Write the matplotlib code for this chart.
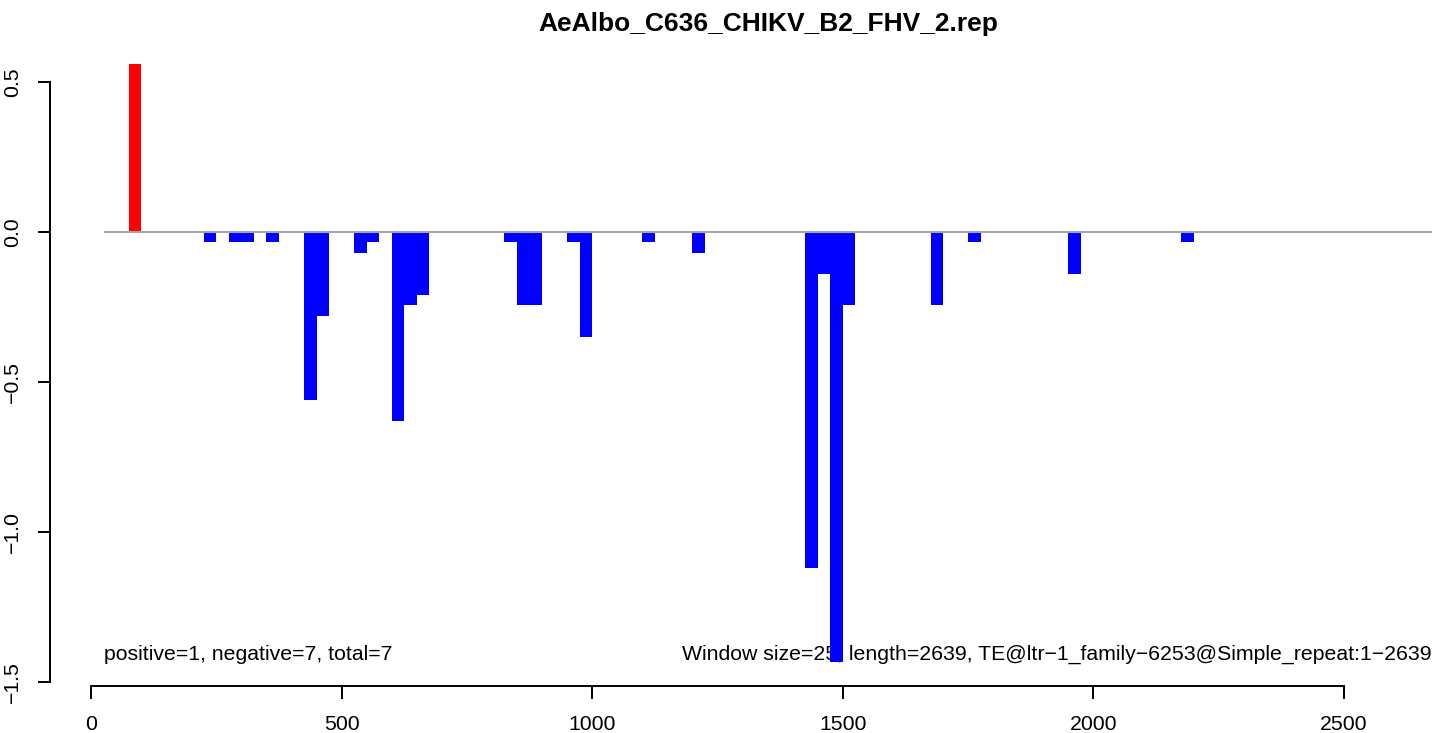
import matplotlib
matplotlib.use("Agg")
import matplotlib.pyplot as plt

# window starts (bp) and normalised scores, window size 25
win_start = [75, 225, 275, 300, 350, 425, 450, 525, 550, 600, 625, 650,
             825, 850, 875, 950, 975, 1100, 1200, 1425, 1450, 1475, 1500,
             1675, 1750, 1950, 2175]
win_score = [0.56, -0.035, -0.035, -0.035, -0.035, -0.56, -0.28, -0.07, -0.035,
             -0.63, -0.245, -0.21, -0.035, -0.245, -0.245, -0.035, -0.35, -0.035,
             -0.07, -1.12, -0.14, -1.435, -0.245, -0.245, -0.035, -0.14, -0.035]
win_size = 25
seq_len = 2639
title = "AeAlbo_C636_CHIKV_B2_FHV_2.rep"
left_note = "positive=1, negative=7, total=7"
right_note = "Window size=25, length=2639, TE@ltr\u22121_family\u22126253@Simple_repeat:1\u22122639"

plt.rcParams['font.family'] = ['Liberation Sans', 'DejaVu Sans']
plt.rcParams['axes.unicode_minus'] = True

W, H = 1444, 733
fig = plt.figure(figsize=(W / 100, H / 100), dpi=100)

# pixel geometry of the plot region (R style)
x0px, xpx_per = 91.0, 0.5012
xl = ((50 - x0px) / xpx_per, (W - x0px) / xpx_per)
y0px, ypx_per = 231.7, 300.0
yl = ((y0px - 685.7) / ypx_per, (y0px - 39.7) / ypx_per)
ax = fig.add_axes([50 / W, (H - 685.7) / H, (W - 50) / W, (685.7 - 39.7) / H])
ax.set_xlim(*xl)
ax.set_ylim(*yl)

colors = ["#FF0000" if v > 0 else "#0000FF" for v in win_score]
ax.bar(win_start, win_score, width=win_size, align="edge", color=colors,
       linewidth=0, antialiased=False, zorder=2)

end = (seq_len // win_size + 2) * win_size
ax.hlines(0, win_size, end, color="#A6A6A6", linewidth=1.5, zorder=3)

fs = 15.3
ax.text(win_size, -1.41, left_note, ha="left", va="center", fontsize=fs, zorder=1)
ax.text(end, -1.41, right_note, ha="right", va="center", fontsize=fs, zorder=1)

fig.text(768 / W, 1 - 24 / H, title, ha="center", va="center",
         fontsize=19, fontweight="bold")

for s in ["top", "right"]:
    ax.spines[s].set_visible(False)
ax.spines["left"].set_bounds(-1.5, 0.5)
ax.spines["bottom"].set_bounds(0, 2500)
ax.spines["left"].set_linewidth(1.4)
ax.spines["bottom"].set_linewidth(1.4)

ax.set_xticks([0, 500, 1000, 1500, 2000, 2500])
ax.set_yticks([-1.5, -1.0, -0.5, 0.0, 0.5])
ax.set_yticklabels(["\u22121.5", "\u22121.0", "\u22120.5", "0.0", "0.5"],
                   rotation=90, va="center")
ax.tick_params(axis="both", length=9, width=1.4, labelsize=fs, direction="out")
ax.tick_params(axis="x", pad=12)
ax.tick_params(axis="y", pad=11)

fig.savefig("out.png", dpi=100)
